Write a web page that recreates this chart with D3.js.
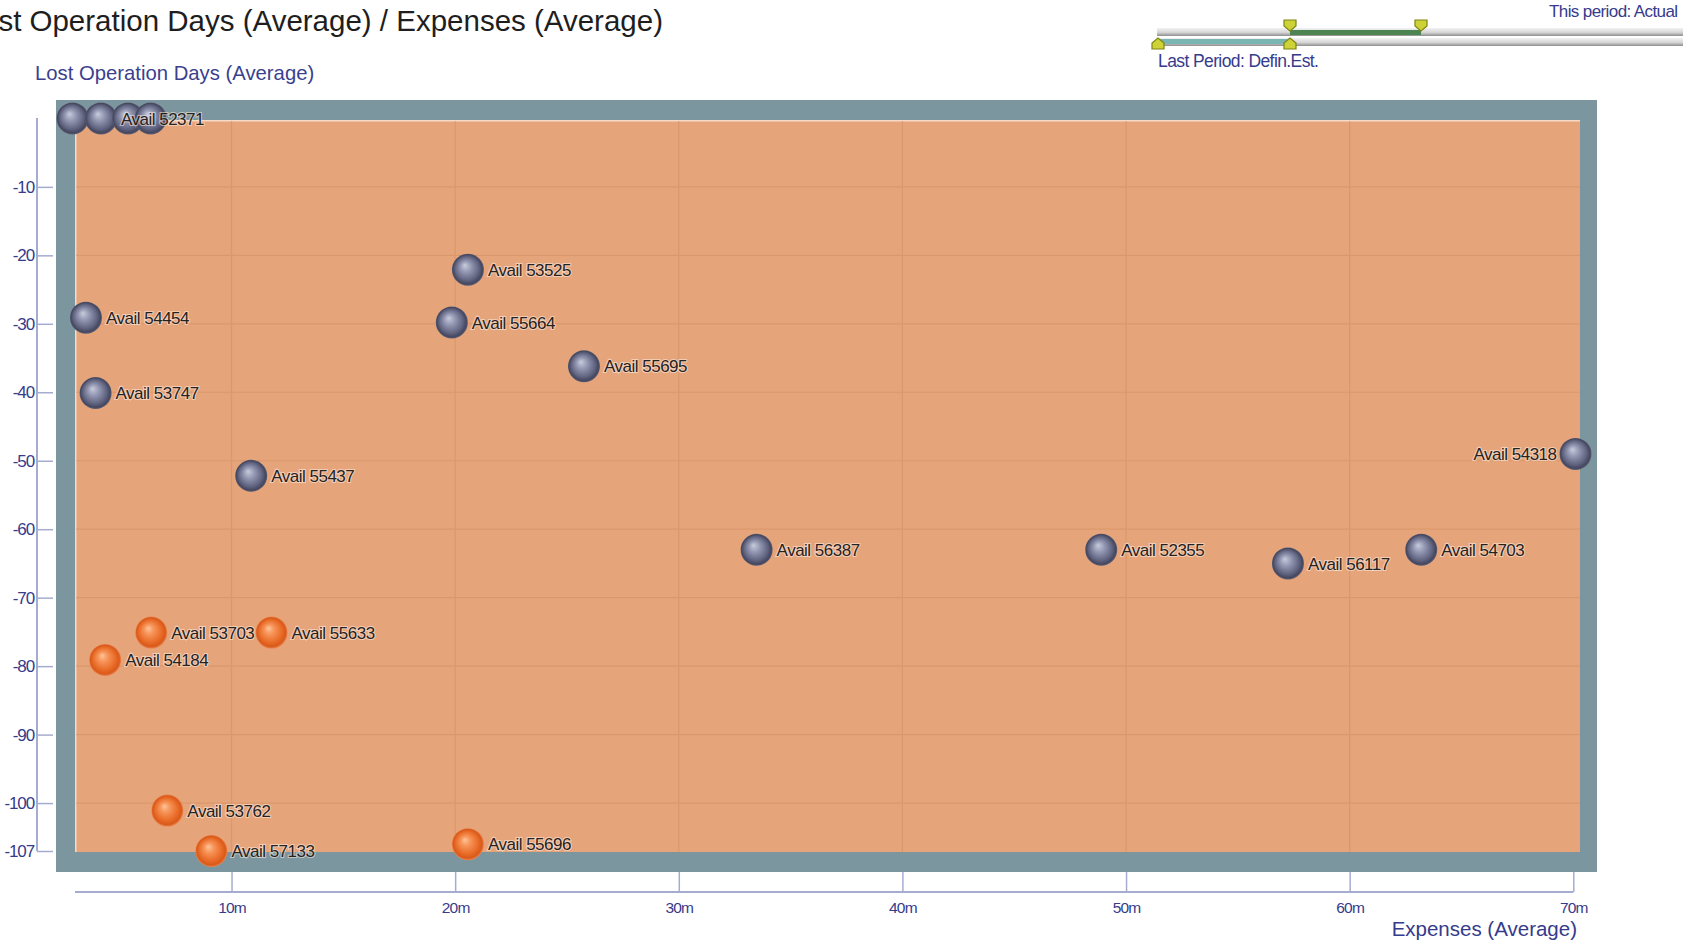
<!DOCTYPE html>
<html><head><meta charset="utf-8">
<script src="https://cdn.jsdelivr.net/npm/d3@7"></script>
<style>
body{margin:0;background:#fff;overflow:hidden}
svg{display:block}
text{font-family:"Liberation Sans",Arial,sans-serif}
</style>
</head><body>
<svg id="c" width="1683" height="944"></svg>
<script>
// ---------- data ----------
const chartTitle = "Lost Operation Days (Average) / Expenses (Average)";
const yAxisTitle = "Lost Operation Days (Average)";
const xAxisTitle = "Expenses (Average)";
const xTicks = [10, 20, 30, 40, 50, 60, 70];
const yTicks = [-10, -20, -30, -40, -50, -60, -70, -80, -90, -100, -107];
const yGrid = [-10, -20, -30, -40, -50, -60, -70, -80, -90, -100];
const xGrid = [10, 20, 30, 40, 50, 60];

// grey series (expenses in millions, lost days)
const greyNames = ["", "Avail 52371", "", "", "Avail 54454", "Avail 53747", "Avail 55437", "Avail 53525",
  "Avail 55664", "Avail 55695", "Avail 56387", "Avail 52355", "Avail 56117", "Avail 54703", "Avail 54318"];
const greyX = [2.89, 4.16, 5.37, 6.38, 3.49, 3.92, 10.88, 20.57, 19.85, 25.76, 33.48, 48.89, 57.24, 63.2, 70.1];
const greyY = [0, 0, 0, 0, -29.1, -40.1, -52.2, -22.1, -29.8, -36.2, -63.0, -63.0, -65.0, -63.0, -49.0];

// orange series
const orangeNames = ["Avail 53703", "Avail 55633", "Avail 54184", "Avail 53762", "Avail 57133", "Avail 55696"];
const orangeX = [6.41, 11.79, 4.35, 7.13, 9.10, 20.57];
const orangeY = [-75.1, -75.1, -79.1, -101.1, -107.0, -106.0];

// period legend
const legendThis = "This period: Actual";
const legendLast = "Last Period: Defin.Est.";

// ---------- drawing ----------
const svg = d3.select("#c");
const defs = svg.append("defs");

function ballGrad(id, stops) {
  const g = defs.append("radialGradient").attr("id", id)
    .attr("cx", "50%").attr("cy", "50%").attr("r", "50%").attr("fx", "40%").attr("fy", "36%");
  stops.forEach(s => g.append("stop").attr("offset", s[0]).attr("stop-color", s[1]));
}
ballGrad("gGrey", [["0%", "#c9ccdc"], ["35%", "#9397b2"], ["75%", "#60637f"], ["92%", "#45475f"], ["100%", "#5c5e74"]]);
ballGrad("gOrange", [["0%", "#ffc49a"], ["30%", "#f7955a"], ["72%", "#e86a26"], ["90%", "#d9591a"], ["100%", "#ea8550"]]);

const trackG = defs.append("linearGradient").attr("id", "track").attr("x1", 0).attr("x2", 0).attr("y1", 0).attr("y2", 1);
[["0%", "#f2f2f2"], ["55%", "#d6d6d6"], ["100%", "#8e8e8e"]].forEach(s => trackG.append("stop").attr("offset", s[0]).attr("stop-color", s[1]));

const x = d3.scaleLinear().domain([3, 70.3]).range([75, 1580]);
const y = d3.scaleLinear().domain([0, -107]).range([118.4, 851]);

// title (left part falls outside the window, as in the reference)
svg.append("text").attr("x", 663).attr("y", 31).attr("text-anchor", "end")
  .attr("font-size", 29.5).attr("fill", "#1e1e1e").text(chartTitle);

svg.append("text").attr("x", 35).attr("y", 80).attr("font-size", 20.3)
  .attr("fill", "#3b3f8f").text(yAxisTitle);

// frame
svg.append("rect").attr("x", 56).attr("y", 100).attr("width", 1541).attr("height", 772).attr("fill", "#7b969e");
svg.append("rect").attr("x", x.range()[0]).attr("y", 120).attr("width", x.range()[1] - x.range()[0]).attr("height", 732).attr("fill", "#e6a47a");
svg.append("path").attr("d", `M${x.range()[0] + 0.75},852V120.75H${x.range()[1]}`)
  .attr("fill", "none").attr("stroke", "#f6dac6").attr("stroke-width", 1.5);

// grid
const grid = svg.append("g").attr("stroke", "#d48f63").attr("stroke-width", 1.2).attr("opacity", 0.55);
grid.selectAll("line.v").data(xGrid).join("line").attr("class", "v")
  .attr("x1", d => x(d)).attr("x2", d => x(d)).attr("y1", 121).attr("y2", 852);
grid.selectAll("line.h").data(yGrid).join("line").attr("class", "h")
  .attr("x1", x.range()[0] + 1).attr("x2", x.range()[1]).attr("y1", d => y(d)).attr("y2", d => y(d));

// x axis
const axisCol = "#a6acd0", labCol = "#363b8c";
const gx = svg.append("g").attr("transform", "translate(0,892)")
  .call(d3.axisBottom(x).tickValues(xTicks).tickFormat(d => d + "m").tickSizeInner(-20).tickSizeOuter(0).tickPadding(10));
gx.select(".domain").remove();
gx.append("line").attr("x1", x(3)).attr("x2", x(70)).attr("y1", 0).attr("y2", 0).attr("stroke", axisCol).attr("stroke-width", 2);
gx.selectAll(".tick line").attr("stroke", axisCol).attr("stroke-width", 1.5);
gx.selectAll(".tick text").attr("fill", labCol).attr("font-size", 15.5).attr("letter-spacing", -0.8)
  .attr("font-family", "'Liberation Sans',Arial,sans-serif");

svg.append("text").attr("x", 1577).attr("y", 936).attr("text-anchor", "end")
  .attr("font-size", 20.5).attr("fill", labCol).text(xAxisTitle);

// y axis
const gy = svg.append("g").attr("transform", "translate(37,0)")
  .call(d3.axisLeft(y).tickValues(yTicks).tickFormat(d => d).tickSizeInner(-16).tickSizeOuter(0).tickPadding(3));
gy.select(".domain").remove();
gy.append("line").attr("x1", 0).attr("x2", 0).attr("y1", 118).attr("y2", y(-107)).attr("stroke", axisCol).attr("stroke-width", 2);
gy.selectAll(".tick line").attr("stroke", axisCol).attr("stroke-width", 1.5);
gy.selectAll(".tick text").attr("fill", labCol).attr("font-size", 17).attr("letter-spacing", -1.1)
  .attr("font-family", "'Liberation Sans',Arial,sans-serif");

// points
const greyPts = greyNames.map((n, i) => ({ name: n, x: greyX[i], y: greyY[i], s: "grey" }));
const orangePts = orangeNames.map((n, i) => ({ name: n, x: orangeX[i], y: orangeY[i], s: "orange" }));
const pts = greyPts.concat(orangePts);
const R = 16;

svg.append("g").selectAll("circle").data(pts).join("circle")
  .attr("cx", d => x(d.x)).attr("cy", d => y(d.y)).attr("r", R)
  .attr("fill", d => d.s === "grey" ? "url(#gGrey)" : "url(#gOrange)");

svg.append("g").selectAll("text").data(pts.filter(d => d.name)).join("text")
  .attr("x", d => d.x > 68 ? x(d.x) - R - 3 : x(d.x) + R + 4)
  .attr("y", d => y(d.y)).attr("dy", "0.36em")
  .attr("text-anchor", d => d.x > 68 ? "end" : "start")
  .attr("font-size", 17).attr("letter-spacing", -0.5)
  .attr("fill", "#26221e").attr("stroke", "rgba(255,240,230,0.55)").attr("stroke-width", 2.2)
  .attr("paint-order", "stroke").text(d => d.name);

// period legend (top right)
const lg = svg.append("g");
lg.append("rect").attr("x", 1157).attr("y", 28).attr("width", 540).attr("height", 8).attr("fill", "url(#track)");
lg.append("rect").attr("x", 1157).attr("y", 38).attr("width", 540).attr("height", 8).attr("fill", "url(#track)");
lg.append("rect").attr("x", 1290).attr("y", 30).attr("width", 131).attr("height", 5).attr("fill", "#4c8552");
lg.append("rect").attr("x", 1157).attr("y", 39).attr("width", 133).attr("height", 5).attr("fill", "#79b6b4");
function marker(cx, cy, down) {
  const s = down ? 1 : -1;
  const p = `M${cx - 6},${cy - 5 * s}H${cx + 6}V${cy + 1 * s}L${cx},${cy + 6 * s}L${cx - 6},${cy + 1 * s}Z`;
  lg.append("path").attr("d", p).attr("fill", "#cdd236").attr("stroke", "#7f8414").attr("stroke-width", 1.2);
}
marker(1290, 25, true); marker(1421, 25, true);
marker(1158, 44, false); marker(1290, 44, false);
lg.append("text").attr("x", 1549).attr("y", 17).attr("font-size", 17).attr("letter-spacing", -0.6).attr("fill", labCol).text(legendThis);
lg.append("text").attr("x", 1158).attr("y", 67).attr("font-size", 17.5).attr("letter-spacing", -0.6).attr("fill", labCol).text(legendLast);
</script>
</body></html>
